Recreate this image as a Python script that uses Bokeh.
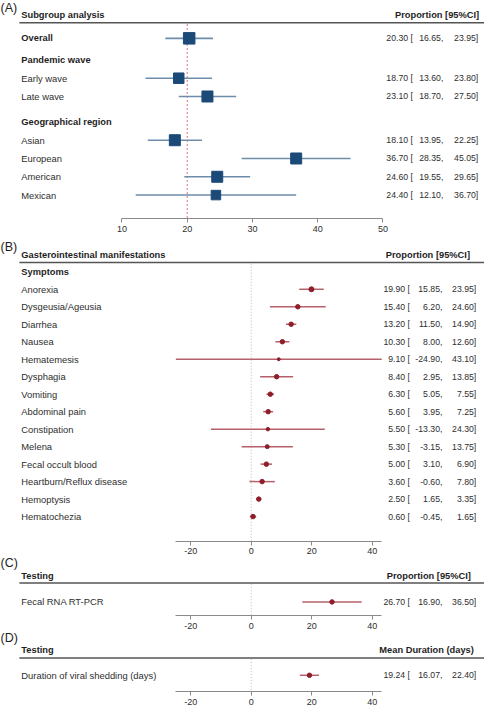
from bokeh.plotting import figure
from bokeh.models import Range1d, LinearAxis, FixedTicker, ColumnDataSource
from bokeh.core.properties import value
from bokeh.embed import file_html
from bokeh.resources import INLINE

NaN = float("nan")

# ---------------- data ----------------
# (A) Subgroup analysis
A_labels = ["Overall", "Pandemic wave", "Early wave", "Late wave", "Geographical region",
            "Asian", "European", "American", "Mexican"]
A_header = [False, True, False, False, True, False, False, False, False]
A_est = [20.30, NaN, 18.70, 23.10, NaN, 18.10, 36.70, 24.60, 24.40]
A_lo = [16.65, NaN, 13.60, 18.70, NaN, 13.95, 28.35, 19.55, 12.10]
A_hi = [23.95, NaN, 23.80, 27.50, NaN, 22.25, 45.05, 29.65, 36.70]
A_ticks = [10, 20, 30, 40, 50]
A_ref = 20

# (B) Gastrointestinal manifestations
B_labels = ["Anorexia", "Dysgeusia/Ageusia", "Diarrhea", "Nausea", "Hematemesis", "Dysphagia",
            "Vomiting", "Abdominal pain", "Constipation", "Melena", "Fecal occult blood",
            "Heartburn/Reflux disease", "Hemoptysis", "Hematochezia"]
B_est = [19.90, 15.40, 13.20, 10.30, 9.10, 8.40, 6.30, 5.60, 5.50, 5.30, 5.00, 3.60, 2.50, 0.60]
B_lo = [15.85, 6.20, 11.50, 8.00, -24.90, 2.95, 5.05, 3.95, -13.30, -3.15, 3.10, -0.60, 1.65, -0.45]
B_hi = [23.95, 24.60, 14.90, 12.60, 43.10, 13.85, 7.55, 7.25, 24.30, 13.75, 6.90, 7.80, 3.35, 1.65]

# (C) Testing
C_labels = ["Fecal RNA RT-PCR"]
C_est = [26.70]
C_lo = [16.90]
C_hi = [36.50]

# (D) Testing
D_labels = ["Duration of viral shedding (days)"]
D_est = [19.24]
D_lo = [16.07]
D_hi = [22.40]

BCD_ticks = [-20, 0, 20, 40]

# ---------------- styles ----------------
A_square_px = [11.5, 10.5, 11, 11, 11, 11, 9.5]
B_dot_px = [5, 4.5, 4.5, 4.5, 3, 4.5, 4.5, 4.5, 3.5, 4, 4.5, 4.5, 4.5, 4.5]
FONT = "Liberation Sans"
TXT = "#2e2e2e"
HEAD = "#1e1e1e"
NAVY = "#1C4A78"
BLUE_CI = "#6E8DAB"
RED = "#8E1F2A"
RED_CI = "#B5606A"
FS_LAB = "9.4px"
FS_BOLD = "9.3px"
FS_NUM = "8.7px"
FS_TICK = "9px"
TAG_FS = "12.5px"

W, H = 484, 709
REF_W, REF_H = 500.0, 725.0   # layout units of the page (reference pixels)

# x scale of panel A (range name "A") and panels B-D (default range)
A_PPU = 6.74
A_X0 = 10 - 125.5 / A_PPU
def xA(ref):
    return A_X0 + ref / A_PPU

B_PPU = 3.127
B_X0 = 0 - 259.0 / B_PPU
def xB(ref):
    return B_X0 + ref / B_PPU

p = figure(width=W, height=H, x_range=Range1d(xB(0), xB(REF_W)), y_range=Range1d(REF_H, 0),
           x_axis_type=None, y_axis_type=None, toolbar_location=None, output_backend="svg",
           min_border=0, min_border_left=0, min_border_right=0, min_border_top=0,
           min_border_bottom=0)
p.extra_x_ranges = {"A": Range1d(xA(0), xA(REF_W))}
p.outline_line_color = None
p.background_fill_color = "white"
p.border_fill_color = "white"


def add_axis(ticks, bounds, y_loc, rng="default"):
    ax = LinearAxis(ticker=FixedTicker(ticks=ticks), bounds=bounds, fixed_location=y_loc,
                    x_range_name=rng)
    ax.axis_line_color = "#8a8a8a"
    ax.axis_line_width = 1
    ax.major_tick_line_color = "#8a8a8a"
    ax.major_tick_in = 0
    ax.major_tick_out = 4
    ax.minor_tick_out = 0
    ax.minor_tick_in = 0
    ax.major_label_standoff = 3
    ax.major_label_text_font = FONT
    ax.major_label_text_font_size = FS_TICK
    ax.major_label_text_color = TXT
    ax.major_label_overrides = {t: f"{t:g}" for t in ticks}
    p.add_layout(ax, "below")


def texts(xs, ys, ts, align="left", bold=False, size=FS_LAB, color=TXT, rng="default"):
    src = ColumnDataSource(dict(x=xs, y=ys, t=ts))
    p.text(x="x", y="y", text="t", source=src, text_align=align, text_baseline="middle",
           text_font=value(FONT), text_font_size=size,
           text_font_style="bold" if bold else "normal", text_color=color,
           x_range_name=rng)


def fmt_cols(est, lo, hi):
    return ([f"{e:.2f} [" for e in est], [f"{l:.2f}," for l in lo], [f"{h:.2f}]" for h in hi])


# ================= Panel A =================
A_axis_y, A_R0, A_P = 223.3, 38.7, 18.7
gapsA = {"Pandemic wave": 0.18, "Geographical region": 0.39}
posA = []
c = 0.0
for i, lab in enumerate(A_labels):
    if i > 0:
        c += 1 + gapsA.get(lab, 0.0)
    posA.append(A_R0 + c * A_P)

add_axis(A_ticks, (min(A_ticks), max(A_ticks)), A_axis_y, rng="A")
p.segment(x0=[A_ref], x1=[A_ref], y0=[24.0], y1=[A_axis_y], line_color="#E0707C",
          line_width=1, line_dash="2 2", x_range_name="A")
texts([xA(0)], [7.3], ["(A)"], size=TAG_FS, color=HEAD, rng="A")
texts([xA(21.5)], [15.0], ["Subgroup analysis"], bold=True, size=FS_BOLD, color=HEAD, rng="A")
texts([xA(494.5)], [15.0], ["Proportion [95%CI]"], align="right", bold=True, size=FS_BOLD,
      color=HEAD, rng="A")
p.segment(x0=[xA(19.5)], x1=[xA(REF_W)], y0=[22.7], y1=[22.7], line_color="#555555",
          line_width=1.5, x_range_name="A")

idxA = [i for i in range(len(A_labels)) if not A_header[i]]
ysA = [posA[i] for i in idxA]
eA = [A_est[i] for i in idxA]
lA = [A_lo[i] for i in idxA]
hA = [A_hi[i] for i in idxA]
p.segment(x0=lA, x1=hA, y0=ysA, y1=ysA, line_color=BLUE_CI, line_width=1.6, x_range_name="A")
p.scatter(x=eA, y=ysA, marker="square", size=A_square_px, fill_color=NAVY, line_color=NAVY,
          x_range_name="A")
bold_rows = [i for i in range(len(A_labels)) if A_header[i] or A_labels[i] == "Overall"]
norm_rows = [i for i in range(len(A_labels)) if i not in bold_rows]
texts([xA(21.5)] * len(bold_rows), [posA[i] for i in bold_rows],
      [A_labels[i] for i in bold_rows], bold=True, size=FS_BOLD, color=HEAD, rng="A")
texts([xA(21.5)] * len(norm_rows), [posA[i] for i in norm_rows],
      [A_labels[i] for i in norm_rows], rng="A")
ce, cl, ch = fmt_cols(eA, lA, hA)
texts([xA(426)] * len(ce), ysA, ce, align="right", size=FS_NUM, rng="A")
texts([xA(457.5)] * len(cl), ysA, cl, align="right", size=FS_NUM, rng="A")
texts([xA(493.5)] * len(ch), ysA, ch, align="right", size=FS_NUM, rng="A")

# ================= Panels B, C, D (shared scale) =================
bounds_bcd = (min(B_lo), max(B_hi))
P_ROW = 17.88
NUM_COLS = (423, 456.5, 491.5)


def forest_panel(tag, tag_y, R0, axis_y, labels, est, lo, hi, dots, title, col_title,
                 title_y, line_y, col_title_x, sub_title=None):
    add_axis(BCD_ticks, bounds_bcd, axis_y)
    p.segment(x0=[0], x1=[0], y0=[line_y + 1.2], y1=[axis_y], line_color="#BBBBBB",
              line_width=1, line_dash="1 2")
    texts([xB(0)], [tag_y], [tag], size=TAG_FS, color=HEAD)
    texts([xB(21.5)], [title_y], [title], bold=True, size=FS_BOLD, color=HEAD)
    texts([xB(col_title_x)], [title_y], [col_title], align="right", bold=True, size=FS_BOLD,
          color=HEAD)
    p.segment(x0=[xB(19.5)], x1=[xB(REF_W)], y0=[line_y], y1=[line_y], line_color="#555555",
              line_width=1.5)
    ys = [R0 + i * P_ROW for i in range(len(labels))]
    if sub_title is not None:
        texts([xB(21.5)], [R0 - P_ROW], [sub_title], bold=True, size=FS_BOLD, color=HEAD)
    p.segment(x0=lo, x1=hi, y0=ys, y1=ys, line_color=RED_CI, line_width=1.5)
    p.scatter(x=est, y=ys, marker="circle", size=dots, fill_color=RED, line_color=RED)
    texts([xB(21.5)] * len(labels), ys, labels)
    ce, cl, ch = fmt_cols(est, lo, hi)
    texts([xB(NUM_COLS[0])] * len(ce), ys, ce, align="right", size=FS_NUM)
    texts([xB(NUM_COLS[1])] * len(cl), ys, cl, align="right", size=FS_NUM)
    texts([xB(NUM_COLS[2])] * len(ch), ys, ch, align="right", size=FS_NUM)


forest_panel("(B)", 252.3, 295.3, 552.7, B_labels, B_est, B_lo, B_hi, B_dot_px,
             "Gasterointestinal manifestations", "Proportion [95%CI]",
             260.0, 268.0, 485, sub_title="Symptoms")
forest_panel("(C)", 575.0, 615.0, 629.3, C_labels, C_est, C_lo, C_hi, [4.5],
             "Testing", "Proportion [95%CI]", 588.3, 595.7, 486)
forest_panel("(D)", 651.7, 690.0, 706.7, D_labels, D_est, D_lo, D_hi, [4.5],
             "Testing", "Mean Duration (days)", 664.3, 672.3, 489)

open("out.html", "w").write(file_html(p, INLINE))
